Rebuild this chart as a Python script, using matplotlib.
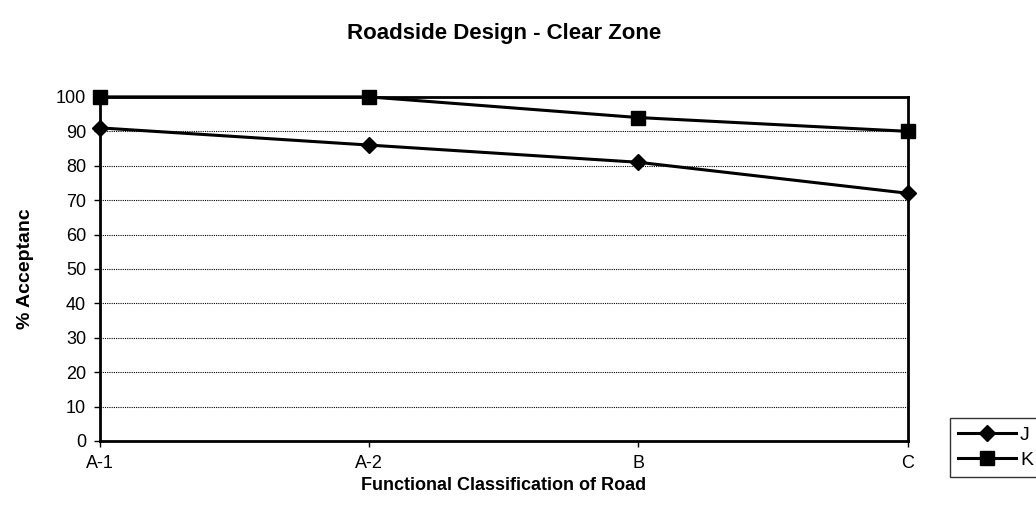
import matplotlib
matplotlib.use("Agg")
import matplotlib.pyplot as plt

# data
categories = ["A-1", "A-2", "B", "C"]
j_values = [91, 86, 81, 72]
k_values = [100, 100, 94, 90]
y_ticks = [0, 10, 20, 30, 40, 50, 60, 70, 80, 90, 100]

plt.rcParams['font.family'] = ['Liberation Sans', 'DejaVu Sans']

fig = plt.figure(figsize=(10.36, 5.21), dpi=100)
ax = fig.add_axes([0.0965, 0.1536, 0.7795, 0.6604])

x = list(range(len(categories)))
ax.plot(x, j_values, color='black', lw=2.2, marker='D', markersize=8, label='J', clip_on=False, zorder=3)
ax.plot(x, k_values, color='black', lw=2.2, marker='s', markersize=10, label='K', clip_on=False, zorder=3)

ax.set_xlim(0, 3)
ax.set_ylim(0, 100)
ax.set_xticks(x)
ax.set_xticklabels(categories, fontsize=13)
ax.set_yticks(y_ticks)
ax.tick_params(axis='y', labelsize=13, length=4, width=1, pad=6)
ax.tick_params(axis='x', length=4, width=1, pad=6)

for v in y_ticks[1:-1]:
    ax.axhline(v, color='black', lw=0.8, ls=(0, (1, 1)), zorder=1)

for s in ax.spines.values():
    s.set_linewidth(2)

ax.set_title("Roadside Design - Clear Zone", fontsize=16, fontweight='bold', pad=42)
ax.set_ylabel("% Acceptanc", fontsize=14, fontweight='bold', labelpad=16)
ax.set_xlabel("Functional Classification of Road", fontsize=13, fontweight='bold', labelpad=4)

fig.legend(loc='lower left', bbox_to_anchor=(0.917, 0.085), fontsize=14, frameon=True,
           fancybox=False, edgecolor='black', handlelength=3.0, borderpad=0.4,
           labelspacing=0.4, handletextpad=0.2, borderaxespad=0)

fig.savefig("out.png", dpi=100)
